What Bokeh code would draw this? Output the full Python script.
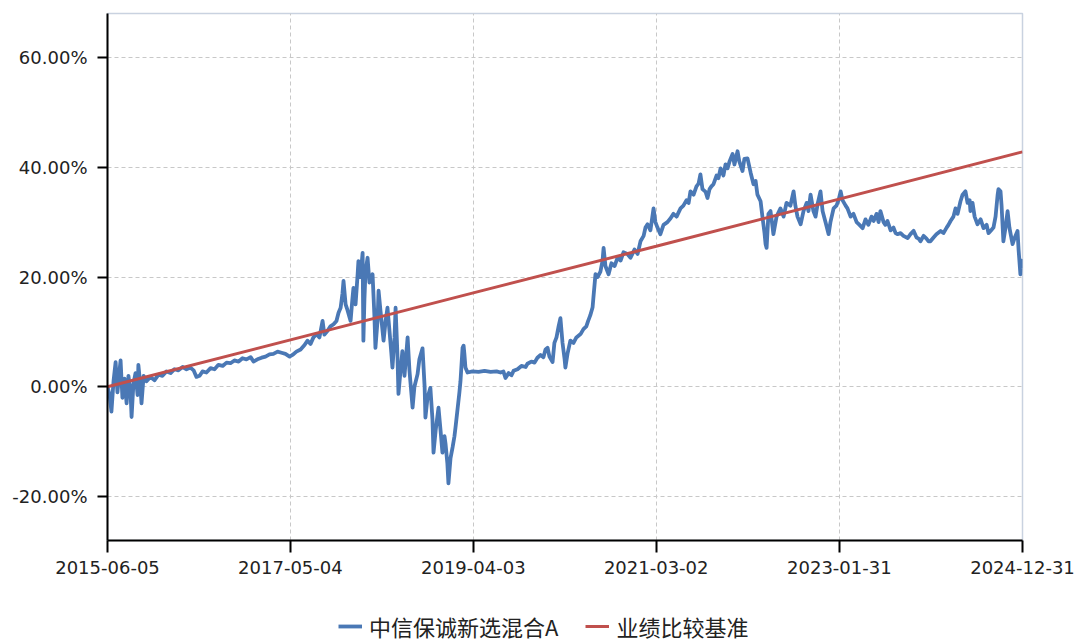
import pandas as pd
from bokeh.plotting import figure
from bokeh.layouts import column
from bokeh.models import (ColumnDataSource, Range1d, FixedTicker, PrintfTickFormatter,
                          DatetimeTickFormatter, Legend, LegendItem)
from bokeh.embed import file_html
from bokeh.resources import INLINE

# ---------------- data ----------------
x_tick_labels = ["2015-06-05", "2017-05-04", "2019-04-03", "2021-03-02", "2023-01-31", "2024-12-31"]
y_ticks = [-20, 0, 20, 40, 60]

fund_name = "中信保诚新选混合A"
bench_name = "业绩比较基准"

fund_dates = [
    "2015-06-05", "2015-06-13", "2015-06-20", "2015-06-28", "2015-07-06", "2015-07-13", "2015-07-21", "2015-07-25",
    "2015-08-01", "2015-08-09", "2015-08-17", "2015-08-24", "2015-09-01", "2015-09-05", "2015-09-12", "2015-09-20",
    "2015-09-28", "2015-10-01", "2015-10-09", "2015-10-13", "2015-10-21", "2015-11-01", "2015-11-16", "2015-12-02",
    "2015-12-17", "2016-01-01", "2016-01-16", "2016-02-01", "2016-02-16", "2016-03-02", "2016-03-18", "2016-04-02",
    "2016-04-17", "2016-04-29", "2016-05-10", "2016-05-22", "2016-06-02", "2016-06-17", "2016-07-03", "2016-07-18",
    "2016-08-02", "2016-08-18", "2016-09-02", "2016-09-17", "2016-10-02", "2016-10-18", "2016-11-02", "2016-11-17",
    "2016-12-03", "2016-12-14", "2016-12-29", "2017-01-14", "2017-01-29", "2017-02-13", "2017-02-28", "2017-03-16",
    "2017-03-31", "2017-04-15", "2017-05-01", "2017-05-12", "2017-05-27", "2017-06-12", "2017-06-27", "2017-07-08",
    "2017-07-20", "2017-07-31", "2017-08-12", "2017-08-23", "2017-09-04", "2017-09-11", "2017-09-23", "2017-10-04",
    "2017-10-16", "2017-10-27", "2017-11-04", "2017-11-12", "2017-11-19", "2017-11-23", "2017-12-01", "2017-12-08",
    "2017-12-20", "2017-12-27", "2017-12-31", "2018-01-08", "2018-01-16", "2018-01-19", "2018-01-27", "2018-02-04",
    "2018-02-07", "2018-02-11", "2018-02-15", "2018-02-23", "2018-03-02", "2018-03-14", "2018-03-21", "2018-03-25",
    "2018-04-02", "2018-04-06", "2018-04-13", "2018-04-25", "2018-05-03", "2018-05-10", "2018-05-18", "2018-05-25",
    "2018-05-29", "2018-06-06", "2018-06-10", "2018-06-17", "2018-06-21", "2018-06-29", "2018-07-06", "2018-07-14",
    "2018-07-26", "2018-08-02", "2018-08-14", "2018-08-21", "2018-09-02", "2018-09-09", "2018-09-21", "2018-09-29",
    "2018-10-02", "2018-10-10", "2018-10-21", "2018-10-29", "2018-11-02", "2018-11-10", "2018-11-21", "2018-11-29",
    "2018-12-06", "2018-12-14", "2018-12-18", "2018-12-25", "2018-12-29", "2019-01-06", "2019-01-14", "2019-01-21",
    "2019-01-25", "2019-02-02", "2019-02-09", "2019-02-13", "2019-02-17", "2019-02-21", "2019-02-25", "2019-02-28",
    "2019-03-04", "2019-03-12", "2019-03-31", "2019-04-23", "2019-05-16", "2019-06-08", "2019-07-01", "2019-07-16",
    "2019-07-27", "2019-08-04", "2019-08-16", "2019-08-27", "2019-09-04", "2019-09-19", "2019-10-04", "2019-10-20",
    "2019-10-27", "2019-11-11", "2019-11-23", "2019-12-04", "2019-12-16", "2019-12-27", "2020-01-04", "2020-01-12",
    "2020-01-19", "2020-01-31", "2020-02-07", "2020-02-15", "2020-02-23", "2020-03-01", "2020-03-09", "2020-03-17",
    "2020-03-20", "2020-03-28", "2020-04-08", "2020-04-20", "2020-05-01", "2020-05-17", "2020-05-28", "2020-06-08",
    "2020-06-15", "2020-06-23", "2020-07-02", "2020-07-05", "2020-07-13", "2020-07-21", "2020-08-01", "2020-08-09",
    "2020-08-13", "2020-08-20", "2020-09-01", "2020-09-12", "2020-09-24", "2020-10-05", "2020-10-17", "2020-10-28",
    "2020-11-12", "2020-11-24", "2020-12-09", "2020-12-21", "2021-01-01", "2021-01-13", "2021-01-20", "2021-01-28",
    "2021-02-08", "2021-02-20", "2021-02-27", "2021-03-07", "2021-03-18", "2021-03-30", "2021-04-14", "2021-04-26",
    "2021-05-07", "2021-05-19", "2021-06-03", "2021-06-14", "2021-06-26", "2021-07-04", "2021-07-11", "2021-07-23",
    "2021-08-03", "2021-08-11", "2021-08-18", "2021-08-26", "2021-09-07", "2021-09-14", "2021-09-22", "2021-09-29",
    "2021-10-07", "2021-10-19", "2021-10-26", "2021-11-03", "2021-11-14", "2021-11-22", "2021-11-30", "2021-12-07",
    "2021-12-19", "2021-12-26", "2022-01-07", "2022-01-14", "2022-01-26", "2022-02-02", "2022-02-14", "2022-02-26",
    "2022-03-09", "2022-03-17", "2022-03-24", "2022-04-05", "2022-04-12", "2022-04-20", "2022-04-24", "2022-04-28",
    "2022-05-05", "2022-05-13", "2022-05-21", "2022-05-24", "2022-06-05", "2022-06-20", "2022-07-02", "2022-07-13",
    "2022-07-28", "2022-08-09", "2022-08-16", "2022-08-24", "2022-09-05", "2022-09-16", "2022-09-28", "2022-10-05",
    "2022-10-13", "2022-10-24", "2022-11-01", "2022-11-09", "2022-11-20", "2022-11-28", "2022-12-09", "2022-12-21",
    "2022-12-28", "2023-01-09", "2023-01-20", "2023-01-28", "2023-02-05", "2023-02-12", "2023-02-24", "2023-03-03",
    "2023-03-15", "2023-03-26", "2023-04-07", "2023-04-18", "2023-04-30", "2023-05-11", "2023-05-22", "2023-06-03",
    "2023-06-11", "2023-06-22", "2023-06-30", "2023-07-07", "2023-07-19", "2023-07-26", "2023-08-03", "2023-08-15",
    "2023-08-26", "2023-09-03", "2023-09-10", "2023-09-22", "2023-10-03", "2023-10-19", "2023-10-30", "2023-11-11",
    "2023-11-22", "2023-11-30", "2023-12-07", "2023-12-19", "2023-12-30", "2024-01-07", "2024-01-14", "2024-01-26",
    "2024-02-06", "2024-02-22", "2024-03-04", "2024-03-16", "2024-03-23", "2024-03-31", "2024-04-11", "2024-04-19",
    "2024-04-27", "2024-05-08", "2024-05-16", "2024-05-27", "2024-06-04", "2024-06-12", "2024-06-15", "2024-06-23",
    "2024-07-01", "2024-07-12", "2024-07-24", "2024-08-04", "2024-08-16", "2024-08-23", "2024-08-31", "2024-09-11",
    "2024-09-19", "2024-09-27", "2024-09-30", "2024-10-08", "2024-10-12", "2024-10-19", "2024-10-27", "2024-11-04",
    "2024-11-11", "2024-11-15", "2024-11-23", "2024-11-30", "2024-12-12", "2024-12-16", "2024-12-23", "2024-12-27",
    "2024-12-31",
]

fund_returns = [
    0.0, -1.5, -4.5, 1.0, 4.5, -1.0, 3.0, 4.8,
    -2.0, 1.5, -3.0, 2.0, -1.0, -5.5, 0.5, 2.5,
    -1.5, 4.0, 0.0, -3.0, 2.0, 1.0, 1.8, 1.2,
    2.2, 2.0, 2.8, 2.5, 3.2, 3.0, 3.6, 3.2,
    3.5, 3.0, 1.8, 2.0, 2.8, 2.6, 3.4, 3.2,
    4.0, 3.8, 4.4, 4.3, 4.8, 4.6, 5.2, 5.0,
    5.4, 4.6, 5.0, 5.3, 5.5, 5.9, 6.0, 6.4,
    6.2, 6.0, 5.5, 5.8, 6.4, 6.8, 7.6, 8.4,
    7.8, 9.0, 9.6, 9.0, 12.0, 9.5, 10.2, 11.0,
    11.4, 12.0, 13.5, 14.4, 17.0, 19.3, 15.0, 14.0,
    12.0, 16.0, 18.0, 15.0, 20.5, 22.9, 20.0, 24.4,
    8.4, 16.0, 21.0, 23.5, 19.0, 20.5, 13.0, 7.1,
    12.0, 17.5, 14.0, 8.4, 12.0, 14.4, 10.0, 6.0,
    3.5, 9.0, 14.4, 6.0, -1.3, 3.0, 6.5, 2.0,
    9.0, 3.0, -3.8, 0.0, 2.3, 5.0, 7.0, 0.0,
    -5.6, -2.0, -0.2, -6.0, -12.0, -8.0, -3.8, -8.0,
    -12.0, -9.0, -10.4, -14.0, -17.6, -13.0, -11.0, -9.0,
    -7.4, -4.0, -1.0, 1.0, 4.0, 7.1, 7.5, 6.0,
    3.5, 2.6, 2.8, 2.7, 2.9, 2.7, 2.8, 2.6,
    2.8, 1.6, 2.5, 2.1, 2.9, 3.2, 3.8, 3.6,
    4.2, 4.6, 4.4, 5.3, 5.8, 5.4, 6.8, 7.1,
    5.5, 4.5, 8.0, 9.0, 11.0, 12.5, 8.0, 5.0,
    3.5, 6.0, 8.4, 8.0, 9.0, 9.6, 10.5, 11.0,
    12.0, 13.0, 14.5, 16.2, 20.5, 20.0, 21.0, 23.0,
    25.3, 22.0, 20.5, 22.5, 22.0, 23.5, 23.0, 24.5,
    24.2, 23.5, 25.0, 24.2, 26.5, 27.5, 29.0, 29.6,
    28.5, 32.5, 30.0, 29.0, 27.8, 29.5, 30.0, 30.7,
    31.5, 31.0, 32.5, 33.0, 34.0, 33.5, 35.6, 35.0,
    36.5, 37.0, 38.7, 36.0, 35.5, 34.4, 36.0, 36.5,
    36.9, 38.5, 38.0, 39.8, 38.5, 40.5, 39.8, 41.0,
    42.4, 40.5, 42.9, 41.0, 39.3, 41.5, 41.6, 39.0,
    36.9, 37.5, 35.0, 33.8, 31.0, 28.0, 26.0, 25.3,
    31.5, 32.0, 29.0, 27.8, 31.0, 32.5, 31.0, 33.5,
    33.0, 35.6, 33.0, 31.0, 29.6, 32.0, 33.5, 32.0,
    35.0, 32.0, 31.0, 33.3, 35.6, 32.0, 30.0, 27.8,
    30.0, 32.5, 33.0, 34.0, 35.6, 34.0, 33.0, 32.5,
    31.0, 31.5, 30.0, 29.5, 28.9, 30.5, 29.5, 31.0,
    30.2, 31.5, 30.0, 32.0, 30.0, 29.5, 30.2, 28.5,
    29.0, 28.0, 27.8, 28.0, 27.5, 27.1, 27.8, 28.4,
    27.2, 27.0, 26.5, 27.5, 27.0, 26.5, 26.5, 27.2,
    27.8, 28.4, 28.0, 29.0, 29.5, 30.2, 31.0, 32.5,
    31.5, 33.8, 35.0, 35.6, 33.5, 34.0, 32.0, 33.5,
    31.0, 29.6, 30.5, 28.9, 29.5, 28.0, 28.4, 29.0,
    31.0, 35.0, 36.0, 35.6, 33.0, 26.5, 29.0, 32.0,
    29.0, 28.0, 26.0, 27.0, 28.4, 25.0, 20.5, 23.0,
    21.6,
]

bench_dates = ["2015-06-05", "2019-04-03", "2021-03-02", "2024-12-31"]
bench_returns = [0.0, 17.1, 25.6, 42.8]

FUND_COLOR = "#4a78b5"
BENCH_COLOR = "#c0504d"

# ---------------- main figure ----------------
fund_src = ColumnDataSource(dict(x=pd.to_datetime(fund_dates), y=fund_returns))
bench_src = ColumnDataSource(dict(x=pd.to_datetime(bench_dates), y=bench_returns))

x_tick_dt = pd.to_datetime(x_tick_labels)
x_tick_ms = [int(t.value // 10**6) for t in x_tick_dt]

p = figure(width=1080, height=600, x_axis_type="datetime",
           output_backend="svg", toolbar_location=None,
           x_range=Range1d(x_tick_dt[0], x_tick_dt[-1]),
           y_range=Range1d(-28, 68),
           min_border_left=107, min_border_right=58,
           min_border_top=13, min_border_bottom=60)

p.background_fill_color = "white"
p.border_fill_color = "white"
p.outline_line_color = "#c9d2e0"
p.outline_line_width = 1.5

LABEL_FONT = "DejaVu Sans"

for ax in (p.xaxis[0], p.yaxis[0]):
    ax.axis_line_color = "black"
    ax.axis_line_width = 2
    ax.major_tick_line_color = "black"
    ax.major_tick_line_width = 2
    ax.major_tick_in = 0
    ax.minor_tick_line_color = None
    ax.major_label_text_font = LABEL_FONT
    ax.major_label_text_font_size = "18px"
    ax.major_label_text_color = "#222222"

p.xaxis[0].ticker = FixedTicker(ticks=x_tick_ms)
p.xaxis[0].formatter = DatetimeTickFormatter(
    milliseconds="%Y-%m-%d", seconds="%Y-%m-%d", minsec="%Y-%m-%d", minutes="%Y-%m-%d",
    hourmin="%Y-%m-%d", hours="%Y-%m-%d", days="%Y-%m-%d", months="%Y-%m-%d", years="%Y-%m-%d")
p.xaxis[0].major_tick_out = 12
p.xaxis[0].major_label_standoff = 8

p.yaxis[0].ticker = FixedTicker(ticks=y_ticks)
p.yaxis[0].formatter = PrintfTickFormatter(format="%.2f%%")
p.yaxis[0].major_tick_out = 10
p.yaxis[0].major_label_standoff = 10

for g in (p.xgrid[0], p.ygrid[0]):
    g.grid_line_color = "#c8c8c8"
    g.grid_line_dash = "4 3"
    g.grid_line_width = 1
p.xgrid[0].ticker = FixedTicker(ticks=x_tick_ms)
p.ygrid[0].ticker = FixedTicker(ticks=y_ticks)

p.line("x", "y", source=fund_src, line_color=FUND_COLOR, line_width=3.8, line_join="round")
p.line("x", "y", source=bench_src, line_color=BENCH_COLOR, line_width=3)

# ---------------- legend strip ----------------
lg = figure(width=1080, height=43, output_backend="svg", toolbar_location=None,
            x_range=Range1d(0, 1), y_range=Range1d(0, 1),
            min_border=0, x_axis_type=None, y_axis_type=None)
lg.outline_line_color = None
lg.xgrid.visible = False
lg.ygrid.visible = False
lg.background_fill_color = "white"
lg.border_fill_color = "white"
# hidden sample glyphs (outside the visible range) that only feed the legend swatches
r_fund = lg.line(x=[-2, -1], y=[-2, -2], line_color=FUND_COLOR, line_width=3.8)
r_bench = lg.line(x=[-2, -1], y=[-2, -2], line_color=BENCH_COLOR, line_width=3)

legend = Legend(items=[LegendItem(label=fund_name, renderers=[r_fund]),
                       LegendItem(label=bench_name, renderers=[r_bench])],
                orientation="horizontal", location=(230, 0),
                border_line_alpha=0, background_fill_alpha=0,
                label_text_font="Noto Sans CJK SC", label_text_font_size="22px",
                label_text_color="#222222", glyph_width=24, glyph_height=20,
                label_height=20,
                spacing=27, padding=1, margin=0, label_standoff=7)
lg.add_layout(legend, "center")

layout = column(p, lg, spacing=0)

open("out.html", "w").write(file_html(layout, INLINE))
